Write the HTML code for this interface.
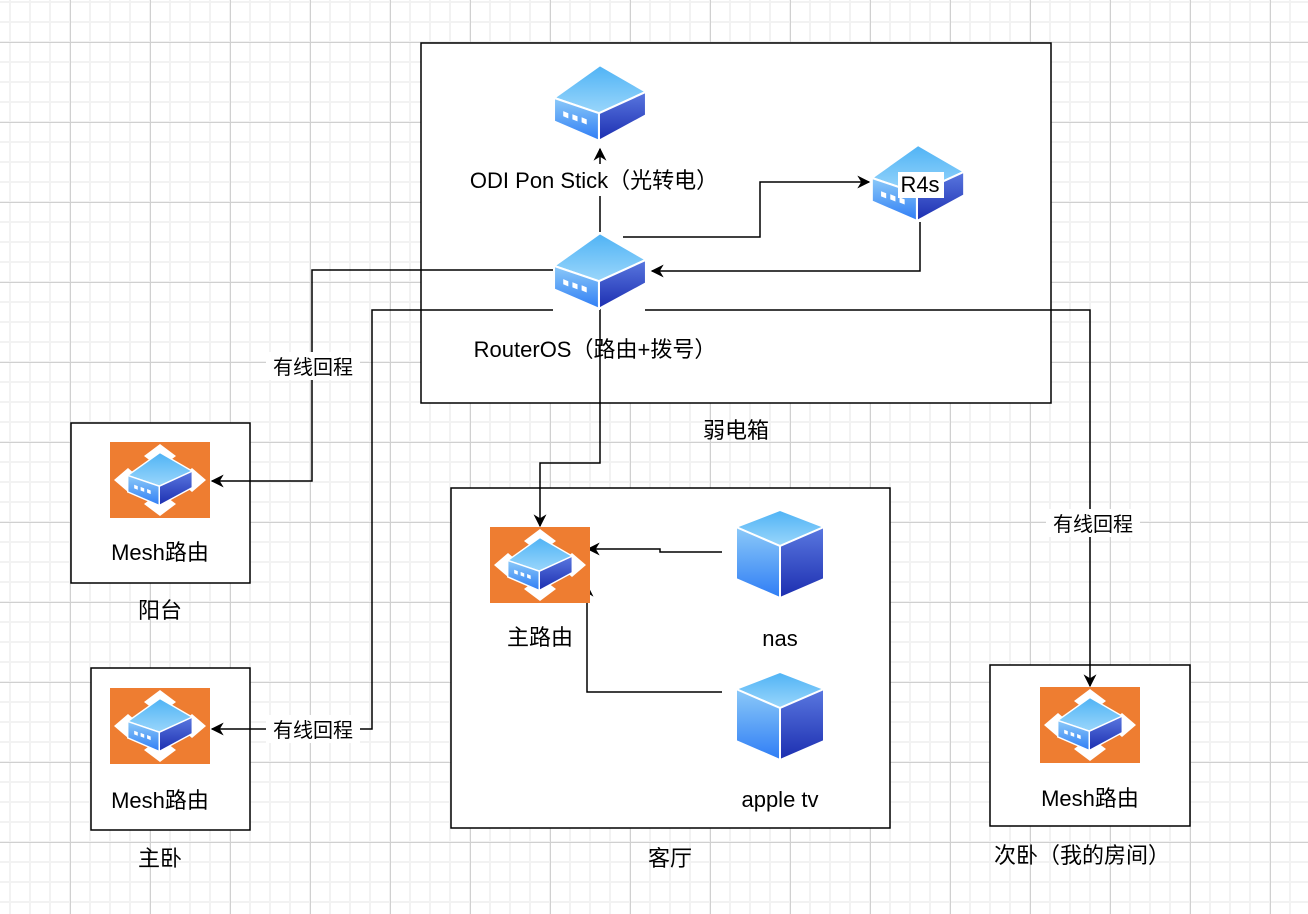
<!DOCTYPE html>
<html><head><meta charset="utf-8"><style>
html,body{margin:0;padding:0;background:#fff}
svg{display:block}
text{font-family:"Liberation Sans","Noto Sans CJK SC",sans-serif;font-size:22px;fill:#000}
</style></head><body>
<svg width="1308" height="914" viewBox="0 0 1308 914" xmlns="http://www.w3.org/2000/svg">
<defs>
<pattern id="minor" width="20" height="20" patternUnits="userSpaceOnUse" x="0" y="0">
<rect x="9" y="0" width="2" height="20" fill="#f2f2f2"/><rect x="0" y="1" width="20" height="2" fill="#f2f2f2"/></pattern>
<pattern id="major" width="80" height="80" patternUnits="userSpaceOnUse" x="0" y="0">
<rect x="70" y="0" width="1" height="80" fill="#d0d0d0"/><rect x="0" y="42" width="80" height="1" fill="#d0d0d0"/></pattern>
<linearGradient id="gt" x1="0" y1="0" x2="0" y2="1"><stop offset="0" stop-color="#4fb3f5"/><stop offset="1" stop-color="#9ad6fb"/></linearGradient>
<linearGradient id="gl" x1="0" y1="0" x2="0" y2="1"><stop offset="0" stop-color="#8ccaf8"/><stop offset="1" stop-color="#2f7df5"/></linearGradient>
<linearGradient id="gr" x1="0" y1="0" x2="0" y2="1"><stop offset="0" stop-color="#5a78e0"/><stop offset="1" stop-color="#1c2eb0"/></linearGradient>
<symbol id="router" viewBox="0 0 92 76">
<path d="M46 1 L91 27 L45 48 L1 33 Z" fill="url(#gt)" stroke="#fff" stroke-width="2"/>
<path d="M1 33 L45 48 L45 75 L1 56 Z" fill="url(#gl)" stroke="#fff" stroke-width="2"/>
<path d="M45 48 L91 27 L91 50 L45 75 Z" fill="url(#gr)" stroke="#fff" stroke-width="2"/>
<path d="M10 46l5 2v5l-5-2zM19 49l5 2v5l-5-2zM28 52l5 2v5l-5-2z" fill="#fff"/>
</symbol>
<symbol id="cube" viewBox="0 0 90 90">
<path d="M45 1 L89 18 L45 37 L1 18 Z" fill="url(#gt)" stroke="#fff" stroke-width="2"/>
<path d="M1 18 L45 37 L45 89 L1 70 Z" fill="url(#gl)" stroke="#fff" stroke-width="2"/>
<path d="M45 37 L89 18 L89 70 L45 89 Z" fill="url(#gr)" stroke="#fff" stroke-width="2"/>
</symbol>
<symbol id="mesh" viewBox="0 0 100 76">
<rect width="100" height="76" fill="#ee7d31"/>
<path d="M50 2l16 12-16 12-16-12z M50 50l16 12-16 12-16-12z M4 38l14-12 14 12-14 12z M68 38l14-12 14 12-14 12z" fill="#fff"/>
<svg x="17" y="9" width="66" height="56" viewBox="0 0 92 76"><use href="#router"/></svg>
</symbol>
<marker id="ar" viewBox="0 0 10 10" refX="9" refY="5" markerWidth="13" markerHeight="13" markerUnits="userSpaceOnUse" orient="auto">
<path d="M0 0 L10 5 L0 10 L3 5 Z" fill="#000"/></marker>
</defs>
<rect width="1308" height="914" fill="url(#minor)"/>
<rect width="1308" height="914" fill="url(#major)"/>

<g fill="#fff" stroke="#000" stroke-width="1.5">
<rect x="421" y="43" width="630" height="360"/>
<rect x="71" y="423" width="179" height="160"/>
<rect x="451" y="488" width="439" height="340"/>
<rect x="91" y="668" width="159" height="162"/>
<rect x="990" y="665" width="200" height="161"/>
</g>

<g fill="none" stroke="#000" stroke-width="1.5">
<path d="M600 232V149" marker-end="url(#ar)"/>
<path d="M623 237H760V182H869" marker-end="url(#ar)"/>
<path d="M920 222V271H652" marker-end="url(#ar)"/>
<path d="M553 270H312V481H212" marker-end="url(#ar)"/>
<path d="M553 310H372V729H212" marker-end="url(#ar)"/>
<path d="M645 310H1090V686" marker-end="url(#ar)"/>
<path d="M600 308V463H540V526" marker-end="url(#ar)"/>
<path d="M722 552H660V549H588" marker-end="url(#ar)"/>
<path d="M722 692H587V585" marker-end="url(#ar)"/>
</g>

<use href="#router" x="553" y="64" width="94" height="78"/>
<use href="#router" x="553" y="232" width="94" height="78"/>
<use href="#router" x="870" y="144" width="96" height="78"/>
<use href="#mesh" x="110" y="442" width="100" height="76"/>
<use href="#mesh" x="490" y="527" width="100" height="76"/>
<use href="#mesh" x="110" y="688" width="100" height="76"/>
<use href="#mesh" x="1040" y="687" width="100" height="76"/>
<use href="#cube" x="735" y="509" width="90" height="90"/>
<use href="#cube" x="735" y="671" width="90" height="90"/>

<rect x="462" y="164" width="264" height="32" fill="#fff"/>
<text x="594" y="188" text-anchor="middle">ODI Pon Stick（光转电）</text>
<rect x="898" y="172" width="46" height="26" fill="#fff"/>
<text x="920" y="192" text-anchor="middle">R4s</text>
<text x="595" y="357" text-anchor="middle">RouterOS（路由+拨号）</text>
<rect x="266" y="352" width="94" height="28" fill="#fff"/>
<text x="313" y="374" text-anchor="middle" style="font-size:20px">有线回程</text>
<rect x="266" y="715" width="94" height="28" fill="#fff"/>
<text x="313" y="737" text-anchor="middle" style="font-size:20px">有线回程</text>
<rect x="1046" y="509" width="94" height="28" fill="#fff"/>
<text x="1093" y="531" text-anchor="middle" style="font-size:20px">有线回程</text>
<text x="736" y="438" text-anchor="middle">弱电箱</text>
<text x="160" y="560" text-anchor="middle">Mesh路由</text>
<text x="160" y="618" text-anchor="middle">阳台</text>
<text x="540" y="645" text-anchor="middle">主路由</text>
<text x="780" y="646" text-anchor="middle">nas</text>
<text x="780" y="807" text-anchor="middle">apple tv</text>
<text x="160" y="808" text-anchor="middle">Mesh路由</text>
<text x="160" y="866" text-anchor="middle">主卧</text>
<text x="670" y="866" text-anchor="middle">客厅</text>
<text x="1090" y="806" text-anchor="middle">Mesh路由</text>
<text x="1082" y="863" text-anchor="middle">次卧（我的房间）</text>
</svg>
</body></html>
